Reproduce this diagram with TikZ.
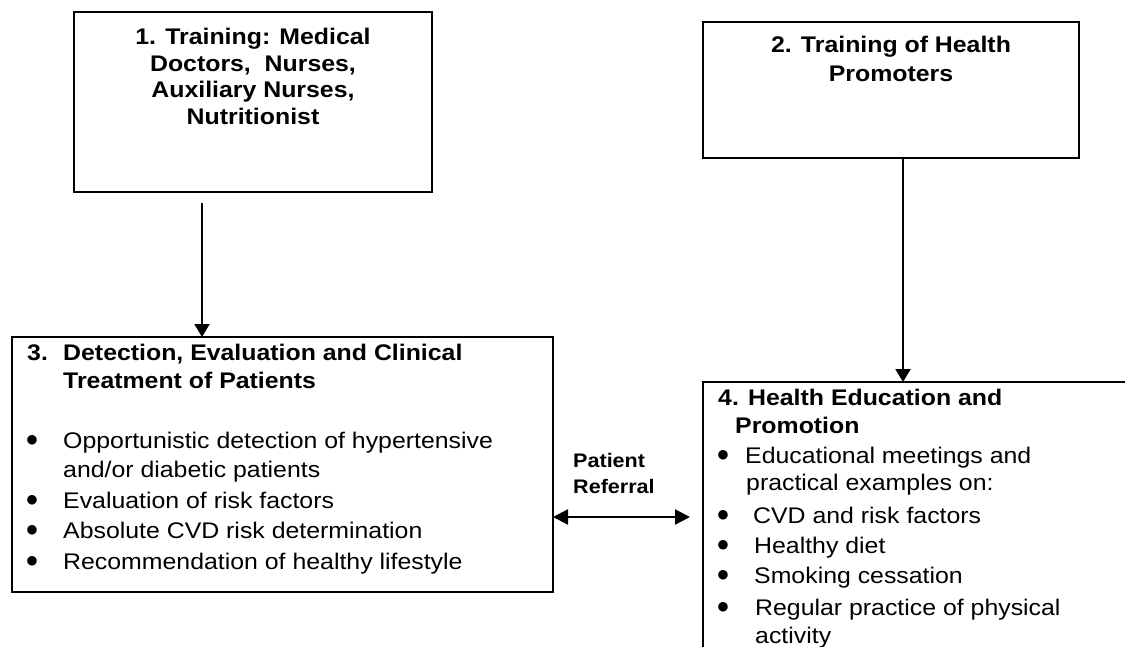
\documentclass[tikz,border=0pt]{standalone}
\usepackage{fontspec}
\setmainfont{Liberation Sans}[FakeStretch=1.1]
\newfontfamily\dotfont{DejaVu Sans}
\usetikzlibrary{arrows.meta}
\begin{document}
\begin{tikzpicture}[x=1pt,y=-1pt,
  framebox/.style={draw, line width=1.8pt, inner sep=0pt, outer sep=0pt, anchor=north west},
  heavybox/.style={draw, line width=2.6pt, inner sep=0pt, outer sep=0pt, anchor=north west},
  head/.style={font=\bfseries\fontsize{22.6}{27}\selectfont, inner sep=0pt},
  body/.style={font=\fontsize{22.6}{27}\selectfont, inner sep=0pt},
  dot/.style={font=\dotfont\fontsize{12.5}{13}\selectfont, inner sep=0pt, anchor=base},
  side/.style={font=\bfseries\fontsize{19.6}{24}\selectfont, inner sep=0pt, anchor=base west},
  flow/.style={line width=2.2pt, -{Triangle[length=13pt,width=15pt]}},
  twoway/.style={line width=2.2pt, {Triangle[length=15pt,width=15pt]}-{Triangle[length=15pt,width=15pt]}},
]
\useasboundingbox (0,0) rectangle (1125,647);

% boxes
\node[framebox, minimum width=358pt, minimum height=180pt] (b1) at (74,12) {};
\node[framebox, minimum width=376pt, minimum height=136pt] (b2) at (703,22) {};
\node[heavybox, minimum width=541pt, minimum height=255pt] (b3) at (12,337) {};
\begin{scope}
  \clip (0,0) rectangle (1125,647);
  \node[heavybox, minimum width=460pt, minimum height=300pt] (b4) at (703,382) {};
\end{scope}

% box 1
\node[head, anchor=base] (t1a) at (253,45) {1. Training: Medical};
\node[head, anchor=base] (t1b) at (253,72) {Doctors,\ \ Nurses,};
\node[head, anchor=base] (t1c) at (253,98) {Auxiliary Nurses,};
\node[head, anchor=base] (t1d) at (253,125) {Nutritionist};

% box 2
\node[head, anchor=base] (t2a) at (891,53) {2. Training of Health};
\node[head, anchor=base] (t2b) at (891,82) {Promoters};

% box 3
\node[head, anchor=base west] (t3n) at (27,360) {3.};
\node[head, anchor=base west] (t3a) at (63,360) {Detection, Evaluation and Clinical};
\node[head, anchor=base west] (t3b) at (63,388) {Treatment of Patients};
\node[dot] (u31) at (32,443) {●};
\node[body, anchor=base west] (t3c) at (63,448) {Opportunistic detection of hypertensive};
\node[body, anchor=base west] (t3d) at (63,477) {and/or diabetic patients};
\node[dot] (u32) at (32,503) {●};
\node[body, anchor=base west] (t3e) at (63,508) {Evaluation of risk factors};
\node[dot] (u33) at (32,533) {●};
\node[body, anchor=base west] (t3f) at (63,538) {Absolute CVD risk determination};
\node[dot] (u34) at (32,564) {●};
\node[body, anchor=base west] (t3g) at (63,569) {Recommendation of healthy lifestyle};

% box 4
\begin{scope}
  \clip (0,0) rectangle (1125,647);
  \node[head, anchor=base west] (t4a) at (718,405) {4. Health Education and};
  \node[head, anchor=base west] (t4b) at (735,433) {Promotion};
  \node[dot] (u41) at (723,458) {●};
  \node[body, anchor=base west] (t4c) at (745,463) {Educational meetings and};
  \node[body, anchor=base west] (t4d) at (746,490) {practical examples on:};
  \node[dot] (u42) at (723,518) {●};
  \node[body, anchor=base west] (t4e) at (753,523) {CVD and risk factors};
  \node[dot] (u43) at (723,548) {●};
  \node[body, anchor=base west] (t4f) at (754,553) {Healthy diet};
  \node[dot] (u44) at (723,578) {●};
  \node[body, anchor=base west] (t4g) at (754,583) {Smoking cessation};
  \node[dot] (u45) at (723,610) {●};
  \node[body, anchor=base west] (t4h) at (755,615) {Regular practice of physical};
  \node[body, anchor=base west] (t4i) at (755,643) {activity};
\end{scope}

% referral label
\node[side] (r1) at (573,467) {Patient};
\node[side] (r2) at (573,493) {Referral};

% connectors
\coordinate (a1s) at (202,203);
\coordinate (a2x) at (903,0);
\coordinate (ref) at (690,517);
\draw[flow] (a1s) -- (b3.north -| a1s);
\draw[flow] (b2.south -| a2x) -- (b4.north -| a2x);
\draw[twoway] (b3.east |- ref) -- (ref);
\end{tikzpicture}
\end{document}
